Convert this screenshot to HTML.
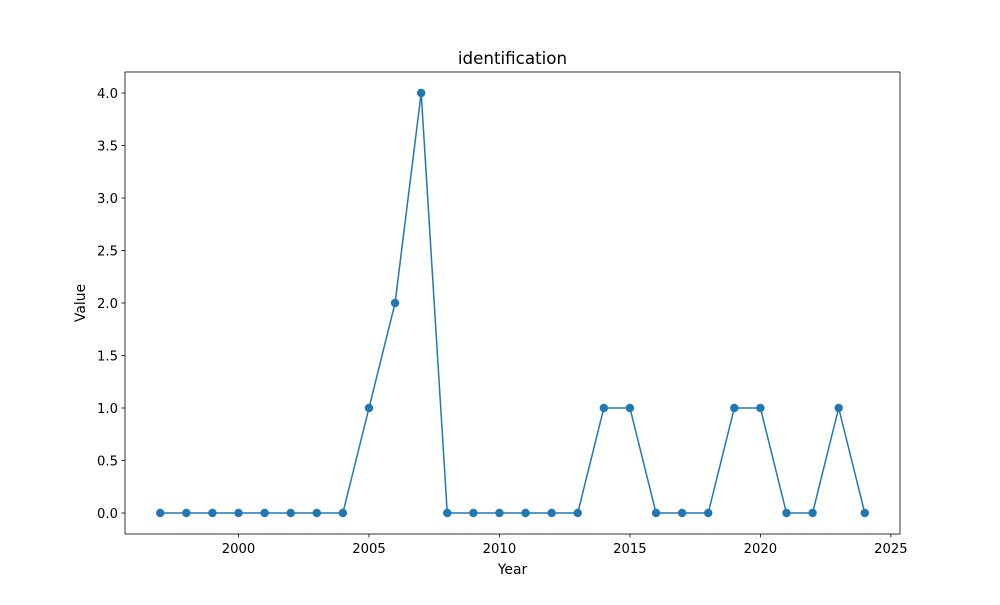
<!DOCTYPE html>
<html><head><meta charset="utf-8"><style>
body{margin:0;background:#fff;font-family:"Liberation Sans","DejaVu Sans",sans-serif;}
svg text{font-family:"DejaVu Sans","Liberation Sans",sans-serif;}
</style></head><body>
<svg id="chart" width="1000" height="600" xmlns="http://www.w3.org/2000/svg">
<rect x="0" y="0" width="1000" height="600" fill="#fff"/>
<text x="512.5" y="64" font-size="16.7" text-anchor="middle">identification</text>
<g id="xticks"></g><g id="yticks"></g>
<polyline id="line" fill="none" stroke="#1f77b4" stroke-width="1.5"/>
<g id="pts"></g>
<rect x="125" y="72" width="775" height="462" fill="none" stroke="#000" stroke-width="0.8"/>
<text x="512.5" y="574" font-size="13.9" text-anchor="middle">Year</text>
<text x="85" y="303" font-size="13.9" text-anchor="middle" transform="rotate(-90 85 303)">Value</text>
</svg>
<script>
const years=[1997,1998,1999,2000,2001,2002,2003,2004,2005,2006,2007,2008,2009,2010,2011,2012,2013,2014,2015,2016,2017,2018,2019,2020,2021,2022,2023,2024];
const values=[0,0,0,0,0,0,0,0,1,2,4,0,0,0,0,0,0,1,1,0,0,0,1,1,0,0,1,0];
const xTicks=[2000,2005,2010,2015,2020,2025];
const yTicks=[0,0.5,1,1.5,2,2.5,3,3.5,4];
const NS="http://www.w3.org/2000/svg";
const x0=125,x1=900,y0=534,y1=72;
const xmin=Math.min(...years),xmax=Math.max(...years),xpad=(xmax-xmin)*0.05;
const ymin=Math.min(...values),ymax=Math.max(...values),ypad=(ymax-ymin)*0.05||0.05;
const X=v=>x0+(v-(xmin-xpad))/((xmax+xpad)-(xmin-xpad))*(x1-x0);
const Y=v=>y0-(v-(ymin-ypad))/((ymax+ypad)-(ymin-ypad))*(y0-y1);
function mk(tag,attrs,parent){const e=document.createElementNS(NS,tag);for(const k in attrs)e.setAttribute(k,attrs[k]);parent.appendChild(e);return e;}
const xg=document.getElementById('xticks');
xTicks.forEach(t=>{const g=mk('g',{},xg);


mk('line',{x1:X(t),x2:X(t),y1:y0,y2:y0+3.5,stroke:'#000','stroke-width':0.8},g);
const tx=mk('text',{x:X(t),y:y0+19,'font-size':13.2,'text-anchor':'middle'},g);tx.textContent=t;});
const yg=document.getElementById('yticks');
yTicks.forEach(t=>{const g=mk('g',{},yg);


mk('line',{x1:x0-3.5,x2:x0,y1:Y(t),y2:Y(t),stroke:'#000','stroke-width':0.8},g);
const tx=mk('text',{x:x0-7,y:Y(t)+4.8,'font-size':13.2,'text-anchor':'end'},g);tx.textContent=t.toFixed(1);});
document.getElementById('line').setAttribute('points',years.map((y,i)=>X(y)+','+Y(values[i])).join(' '));
const pg=document.getElementById('pts');
years.forEach((y,i)=>{const c=mk('circle',{cx:X(y),cy:Y(values[i]),r:4.2,fill:'#1f77b4'},pg);

});
</script>
</body></html>
